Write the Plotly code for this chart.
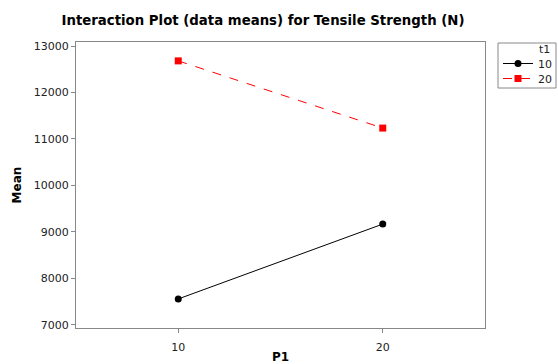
import plotly.graph_objects as go

p1_levels = [10, 20]
t1_10_means = [7560, 9170]
t1_20_means = [12680, 11235]
series_names = ["10", "20"]
legend_title = "t1"
y_ticks = [7000, 8000, 9000, 10000, 11000, 12000, 13000]

fig = go.Figure()
fig.add_trace(go.Scatter(x=p1_levels, y=t1_10_means, mode="lines+markers", name=series_names[0], legend="legend",
                         showlegend=True,
                         line=dict(color="black", width=1), marker=dict(symbol="circle", size=7, color="black")))
fig.add_trace(go.Scatter(x=p1_levels, y=t1_20_means, mode="lines+markers", name=series_names[1], legend="legend2",
                         showlegend=True,
                         line=dict(color="red", width=1, dash="dash"), marker=dict(symbol="square", size=7, color="red")))

fnt = "DejaVu Sans"
L, R, T, B = 76, 73, 42, 36
W, H = 558, 364
pw, ph = W - L - R, H - T - B

def px_x(x):
    return (x - L) / pw

def px_y(y):
    return (H - B - y) / ph

leg_common = dict(xanchor="left", yanchor="top", borderwidth=0, bgcolor="rgba(0,0,0,0)",
                  font=dict(size=11, color="#222"), itemwidth=30, visible=True)

fig.update_layout(
    width=W, height=H,
    showlegend=True,
    margin=dict(l=L, r=R, t=T, b=B, autoexpand=False),
    paper_bgcolor="white", plot_bgcolor="white",
    title=dict(text="<b>Interaction Plot (data means) for Tensile Strength (N)</b>", x=263 / W, xanchor="center",
               y=0.945, yanchor="middle", font=dict(family=fnt, size=13.3, color="black")),
    font=dict(family=fnt, size=11, color="#222"),
    xaxis=dict(range=[5, 25], tickvals=p1_levels, ticktext=[str(v) for v in p1_levels],
               ticks="outside", ticklen=4, tickcolor="#888", ticklabelstandoff=5,
               showline=True, linecolor="#888", mirror=True, showgrid=False, zeroline=False,
               title=dict(text="<b>P1</b>", font=dict(size=12, color="black"), standoff=8)),
    yaxis=dict(range=[6935, 13086], tickvals=y_ticks, ticktext=[str(v) for v in y_ticks],
               ticks="outside", ticklen=4, tickcolor="#888",
               showline=True, linecolor="#888", mirror=True, showgrid=False, zeroline=False,
               title=dict(text="<b>Mean</b>", font=dict(size=12, color="black"), standoff=9)),
    legend=dict(x=px_x(498), y=px_y(49), **leg_common),
    legend2=dict(x=px_x(498), y=px_y(64), **leg_common),
    shapes=[dict(type="rect", xref="paper", yref="paper", x0=px_x(498), x1=px_x(556),
                 y0=px_y(88), y1=px_y(43), line=dict(color="#888", width=1))],
    annotations=[dict(text=legend_title, xref="paper", yref="paper", x=px_x(552), y=px_y(49),
                      xanchor="right", yanchor="middle", showarrow=False, font=dict(size=11, color="#222"))],
)
fig.write_html("out.html")
